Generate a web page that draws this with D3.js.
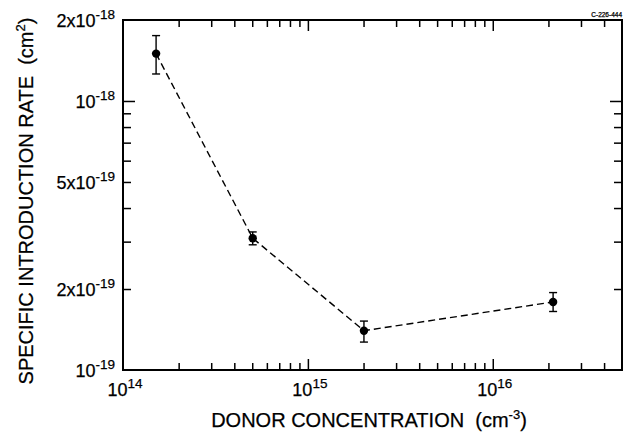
<!DOCTYPE html>
<html><head><meta charset="utf-8">
<script src="https://cdn.jsdelivr.net/npm/d3@7"></script>
<style>
html,body{margin:0;padding:0;background:#fff;}
svg text{font-family:"Liberation Sans",Arial,Helvetica,sans-serif;fill:#000;white-space:pre;stroke:#000;stroke-width:0.25;}
</style></head><body>
<svg id="chart" width="624" height="434"></svg>
<script>
// ---- data ----
const donor   = [1.51e14, 5.03e14, 2.01e15, 2.12e16];
const rate    = [1.50e-18, 3.09e-19, 1.40e-19, 1.79e-19];
const errHigh = [1.75e-18, 3.26e-19, 1.52e-19, 1.94e-19];
const errLow  = [1.26e-18, 2.92e-19, 1.27e-19, 1.65e-19];

const xDomain = [1e14, 5e16];
const yDomain = [1e-19, 2e-18];

const xMajorTicks = [1e15, 1e16];
const xMinorTicks = [2e14,3e14,4e14,5e14,6e14,7e14,8e14,9e14,
                     2e15,3e15,4e15,5e15,6e15,7e15,8e15,9e15,
                     2e16,3e16,4e16];
const yMajorTicks = [1e-18];
const yMinorTicks = [2e-19,3e-19,4e-19,5e-19,6e-19,7e-19,8e-19,9e-19];

const xLabelValues = [1e14, 1e15, 1e16];
const xLabelExps   = ["14", "15", "16"];
const yLabelValues = [2e-18, 1e-18, 5e-19, 2e-19, 1e-19];
const yLabelMant   = ["2x", "", "5x", "2x", ""];
const yLabelExps   = ["-18", "-18", "-19", "-19", "-19"];

const xTitle = "DONOR CONCENTRATION  (cm";
const xTitleExp = "-3";
const yTitle = "SPECIFIC INTRODUCTION RATE  (cm";
const yTitleExp = "2";
const figId = "C-226-444";

// ---- layout ----
const L = 123, R = 622, T = 20, B = 370;
const svg = d3.select("#chart");
const x = d3.scaleLog().domain(xDomain).range([L, R]);
const y = d3.scaleLog().domain(yDomain).range([B, T]);

function axisStyle(g){
  g.select(".domain").remove();
  g.selectAll(".tick line").attr("stroke","#000").attr("stroke-width",1.5);
  g.selectAll(".tick text").remove();
}
const majLen = 11, minLen = 7;
[[xMajorTicks, majLen],[xMinorTicks, minLen]].forEach(([vals,len])=>{
  svg.append("g").attr("transform",`translate(0,${B})`)
    .call(d3.axisBottom(x).tickValues(vals).tickSize(-len).tickFormat("")).call(axisStyle);
  svg.append("g").attr("transform",`translate(0,${T})`)
    .call(d3.axisTop(x).tickValues(vals).tickSize(-len).tickFormat("")).call(axisStyle);
});
[[yMajorTicks, 12],[yMinorTicks, minLen+1]].forEach(([vals,len])=>{
  svg.append("g").attr("transform",`translate(${L},0)`)
    .call(d3.axisLeft(y).tickValues(vals).tickSize(-len).tickFormat("")).call(axisStyle);
  svg.append("g").attr("transform",`translate(${R},0)`)
    .call(d3.axisRight(y).tickValues(vals).tickSize(-len).tickFormat("")).call(axisStyle);
});

// frame
svg.append("rect").attr("x",L).attr("y",T).attr("width",R-L).attr("height",B-T)
  .attr("fill","none").attr("stroke","#000").attr("stroke-width",2);

// x tick labels
xLabelValues.forEach((v,i)=>{
  const t = svg.append("text").attr("x",x(v)+2).attr("y",B+26)
    .attr("text-anchor","middle").attr("font-size",18);
  t.append("tspan").text("10");
  t.append("tspan").attr("dy",-8).attr("font-size",13.5).text(xLabelExps[i]);
});
// y tick labels
yLabelValues.forEach((v,i)=>{
  const t = svg.append("text").attr("x",L-8).attr("y",y(v)+7)
    .attr("text-anchor","end").attr("font-size",18);
  t.append("tspan").text(yLabelMant[i]+"10");
  t.append("tspan").attr("dy",-8).attr("font-size",13.5).text(yLabelExps[i]);
});

// axis titles
const xt = svg.append("text").attr("x",369).attr("y",427)
  .attr("text-anchor","middle").attr("font-size",20);
xt.append("tspan").text(xTitle);
xt.append("tspan").attr("dy",-8).attr("font-size",13).text(xTitleExp);
xt.append("tspan").attr("dy",8).text(")");

const yt = svg.append("text").attr("transform","translate(33,201) rotate(-90)")
  .attr("text-anchor","middle").attr("font-size",20);
yt.append("tspan").text(yTitle);
yt.append("tspan").attr("dy",-8).attr("font-size",13).text(yTitleExp);
yt.append("tspan").attr("dy",8).text(")");

svg.append("text").attr("x",622).attr("y",17).attr("text-anchor","end")
  .attr("font-size",6.5).attr("stroke-width",0).text(figId);

// data
const pts = donor.map((d,i)=>({x:d, y:rate[i], hi:errHigh[i], lo:errLow[i]}));
svg.append("path").datum(pts)
  .attr("d", d3.line().x(d=>x(d.x)).y(d=>y(d.y)))
  .attr("fill","none").attr("stroke","#000").attr("stroke-width",1.4)
  .attr("stroke-dasharray","7,4");
const eb = svg.append("g").attr("stroke","#000").attr("stroke-width",1.4);
pts.forEach(d=>{
  eb.append("line").attr("x1",x(d.x)).attr("x2",x(d.x)).attr("y1",y(d.hi)).attr("y2",y(d.lo));
  eb.append("line").attr("x1",x(d.x)-4).attr("x2",x(d.x)+4).attr("y1",y(d.hi)).attr("y2",y(d.hi));
  eb.append("line").attr("x1",x(d.x)-4).attr("x2",x(d.x)+4).attr("y1",y(d.lo)).attr("y2",y(d.lo));
});
svg.append("g").selectAll("circle").data(pts).join("circle")
  .attr("cx",d=>x(d.x)).attr("cy",d=>y(d.y)).attr("r",4.2).attr("fill","#000");
</script>
</body></html>
